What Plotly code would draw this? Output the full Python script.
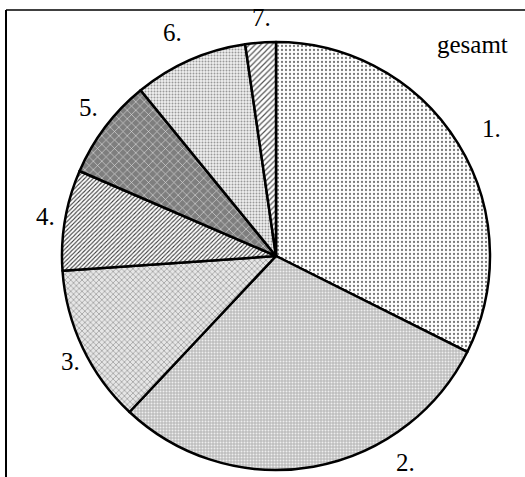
import plotly.graph_objects as go

labels = ["1.", "2.", "3.", "4.", "5.", "6.", "7."]
values = [32.4, 29.6, 11.9, 7.6, 7.6, 8.6, 2.3]
bg_colors = ["#ffffff", "#bdbdbd", "#e6e6e6", "#ffffff", "#7e7e7e", "#f0f0f0", "#ffffff"]
fg_colors = ["#7a7a7a", "#eeeeee", "#909090", "#3a3a3a", "#dcdcdc", "#9a9a9a", "#555555"]
shapes_p = [".", ".", "x", "/", "x", ".", "/"]
sizes_p = [4, 3, 4, 3, 6, 3, 4]
solid = [0.25, 0.35, 0.3, 0.35, 0.2, 0.35, 0.3]

# label positions (pixels) for annotations
label_px = [(491, 129), (405, 462), (70, 361), (45, 216), (88, 108), (172, 32), (261, 18)]

W, H = 525, 477
cx, cy, r = 276, 256, 214

fig = go.Figure(go.Pie(
    labels=labels, values=values, sort=False, direction="clockwise", rotation=0,
    textinfo="none", hoverinfo="label+percent", showlegend=False,
    marker=dict(colors=bg_colors, line=dict(color="black", width=2.5),
                pattern=dict(shape=shapes_p, fgcolor=fg_colors, bgcolor=bg_colors,
                             size=sizes_p, solidity=solid, fillmode="replace")),
    domain=dict(x=[(cx - r) / W, (cx + r) / W], y=[1 - (cy + r) / H, 1 - (cy - r) / H]),
))

font = dict(family="Liberation Serif, Times New Roman, serif", size=25, color="black")
annotations = []
for lab, (px, py) in zip(labels, label_px):
    annotations.append(dict(text=lab, x=px / W, y=1 - py / H, xref="paper", yref="paper",
                            showarrow=False, xanchor="center", yanchor="middle", font=font))
annotations.append(dict(text="gesamt", x=472 / W, y=1 - 44 / H, xref="paper", yref="paper",
                        showarrow=False, xanchor="center", yanchor="middle", font=font))

shapes = [
    dict(type="line", xref="paper", yref="paper", x0=6 / W, x1=1.0, y0=1 - 10 / H, y1=1 - 10 / H,
         line=dict(color="black", width=1.5)),
    dict(type="line", xref="paper", yref="paper", x0=6 / W, x1=6 / W, y0=1 - 10 / H, y1=0,
         line=dict(color="black", width=2)),
]

fig.update_layout(width=W, height=H, margin=dict(l=0, r=0, t=0, b=0),
                  paper_bgcolor="white", plot_bgcolor="white",
                  annotations=annotations, shapes=shapes)
fig.write_html("out.html", config={"displayModeBar": False},
               post_script="document.body.style.margin='0px';document.body.style.overflow='hidden';")
